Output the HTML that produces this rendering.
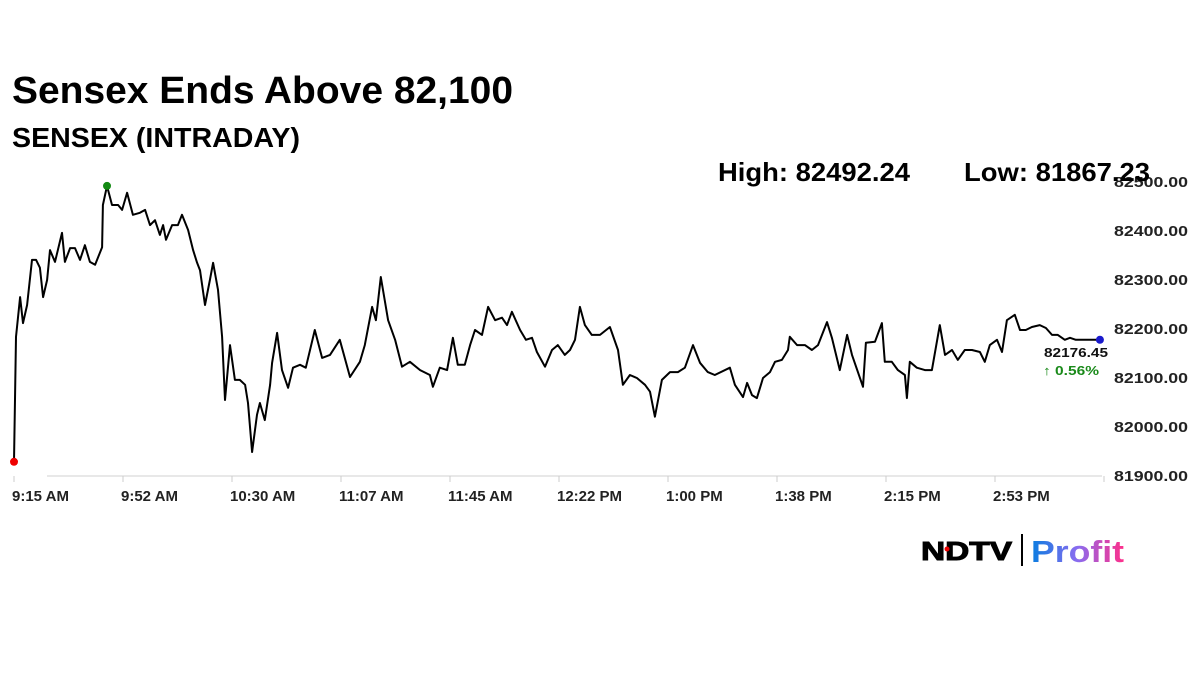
<!DOCTYPE html>
<html><head><meta charset="utf-8"><style>
html,body{margin:0;padding:0;background:#fff;}
svg{display:block;font-family:"Liberation Sans",Arial,sans-serif;}
</style></head><body>
<svg id="chart" width="1200" height="674" viewBox="0 0 1200 674">
<defs><linearGradient id="pg" x1="0" x2="1"><stop offset="0" stop-color="#0a7de0"/><stop offset="0.5" stop-color="#8a6cf0"/><stop offset="1" stop-color="#ff2f8a"/></linearGradient></defs>
<text x="12" y="103" font-size="38" font-weight="bold" fill="#000" textLength="501" lengthAdjust="spacingAndGlyphs">Sensex Ends Above 82,100</text>
<text x="12" y="147" font-size="28" font-weight="bold" fill="#000" textLength="288" lengthAdjust="spacingAndGlyphs">SENSEX (INTRADAY)</text>
<text x="718" y="181" font-size="26" font-weight="bold" fill="#000" textLength="192" lengthAdjust="spacingAndGlyphs">High: 82492.24</text>
<line x1="47" y1="476" x2="1102" y2="476" stroke="#d0d0d0" stroke-width="1"/>
<g id="yaxis"></g>
<g id="xaxis"></g>
<path id="line" fill="none" stroke="#000" stroke-width="2" stroke-linejoin="round"/>
<text x="964" y="181" font-size="26" font-weight="bold" fill="#000" textLength="186" lengthAdjust="spacingAndGlyphs">Low: 81867.23</text>
<g id="marks"></g>
<text x="1044" y="357" font-size="13" font-weight="bold" fill="#111" textLength="64" lengthAdjust="spacingAndGlyphs">82176.45</text>
<text x="1043" y="375" font-size="13" fill="#1a8a1a" font-weight="bold" textLength="56" lengthAdjust="spacingAndGlyphs">↑ 0.56%</text>
<g>
<text x="921" y="560" font-size="26" font-weight="bold" fill="#000" stroke="#000" stroke-width="1" textLength="91" lengthAdjust="spacingAndGlyphs">NDTV</text>
<circle cx="947" cy="549" r="2.5" fill="#e00"/>
<line x1="1022" y1="534" x2="1022" y2="566" stroke="#000" stroke-width="2"/>
<text x="1031" y="562" font-size="31" font-weight="bold" fill="url(#pg)" textLength="93" lengthAdjust="spacingAndGlyphs">Profit</text>
</g>
</svg>
<script>
const yTicks=[82500,82400,82300,82200,82100,82000,81900];
const yTickLabels=["82500.00","82400.00","82300.00","82200.00","82100.00","82000.00","81900.00"];
const xTickMinutes=[0,37.5,75,112.5,150,187.5,225,262.5,300,337.5,375];
const xTickLabels=["9:15 AM","9:52 AM","10:30 AM","11:07 AM","11:45 AM","12:22 PM","1:00 PM","1:38 PM","2:15 PM","2:53 PM",""];
const minutes=[0,0.7,2.1,3.1,4.5,6.2,7.6,8.9,10.0,11.4,12.4,14.1,16.5,17.5,19.3,21.0,22.7,24.4,26.1,27.9,30.3,30.6,32.0,33.7,35.8,37.2,38.9,40.9,43.3,45.1,46.8,48.5,50.2,51.3,52.3,54.4,56.4,57.8,59.9,61.6,63.0,64.0,65.7,67.4,68.5,70.2,71.6,72.6,74.3,76.0,77.7,79.5,80.5,81.9,83.6,84.6,86.3,88.1,88.8,90.5,92.2,94.3,96.0,98.4,100.4,103.5,106.0,108.7,112.1,115.6,119.0,120.7,123.2,124.5,126.2,128.7,131.1,133.5,136.2,139.7,143.1,144.1,146.5,149.0,151.0,152.7,155.1,156.9,158.6,161.0,163.1,165.5,167.9,169.6,171.3,174.1,176.1,178.2,179.9,182.7,185.1,187.1,189.5,191.3,193.0,194.7,196.4,198.8,201.6,205.0,207.8,209.5,211.9,214.3,217.1,218.8,220.5,222.9,225.7,228.4,230.8,233.6,236.0,238.7,241.1,246.3,248.0,250.8,252.2,253.9,255.6,257.7,260.1,261.8,264.2,266.3,266.9,269.4,272.1,274.5,276.6,279.7,281.4,284.1,286.6,288.3,292.1,293.1,296.2,298.6,299.6,302.0,304.1,306.5,307.2,308.2,310.6,313.4,315.8,318.5,320.3,322.7,324.7,327.1,329.6,332.3,334.0,335.7,338.2,339.9,341.6,344.3,346.1,348.1,350.2,352.9,355.0,357.1,359.1,361.5,363.3,365.3,369.5,373.6];
const prices=[81927,82182,82263,82210,82247,82339,82339,82323,82263,82298,82359,82335,82394,82335,82363,82363,82339,82369,82335,82329,82365,82451,82490,82451,82451,82441,82476,82431,82435,82441,82410,82420,82390,82410,82380,82410,82410,82431,82400,82359,82333,82318,82247,82298,82333,82278,82182,82053,82165,82094,82094,82084,82047,81947,82023,82047,82012,82084,82129,82190,82114,82078,82119,82125,82119,82196,82139,82145,82176,82100,82131,82165,82243,82216,82304,82216,82176,82121,82131,82114,82104,82080,82119,82114,82180,82125,82125,82165,82196,82186,82243,82216,82221,82206,82233,82196,82176,82180,82151,82121,82155,82165,82145,82155,82176,82243,82206,82186,82186,82202,82155,82084,82104,82098,82084,82070,82019,82094,82110,82110,82119,82165,82129,82110,82104,82119,82084,82059,82088,82063,82057,82098,82110,82131,82135,82155,82182,82165,82165,82155,82165,82212,82180,82114,82186,82145,82080,82170,82172,82210,82131,82131,82114,82104,82057,82131,82119,82114,82114,82206,82145,82155,82135,82155,82155,82151,82131,82165,82176,82151,82216,82227,82196,82196,82202,82206,82200,82186,82186,82176,82180,82176,82176,82176];
const NS="http://www.w3.org/2000/svg";
function xs(m){return 14+m*(1090/375);}
function ys(v){return 181+(82500-v)*0.49;}
const ya=document.getElementById('yaxis');
yTicks.forEach((v,i)=>{const t=document.createElementNS(NS,'text');


t.setAttribute('x',1114);t.setAttribute('y',ys(v)+6);t.setAttribute('font-size','15');t.setAttribute('font-weight','bold');t.setAttribute('fill','#222');t.setAttribute('textLength','74');t.setAttribute('lengthAdjust','spacingAndGlyphs');t.textContent=yTickLabels[i];ya.appendChild(t);});
const xa=document.getElementById('xaxis');
xTickMinutes.forEach((m,i)=>{const x=xs(m);const l=document.createElementNS(NS,'line');


l.setAttribute('x1',x);l.setAttribute('x2',x);l.setAttribute('y1',476);l.setAttribute('y2',482);l.setAttribute('stroke','#ccc');xa.appendChild(l);
const t=document.createElementNS(NS,'text');


t.setAttribute('x',x-2);t.setAttribute('y',501);t.setAttribute('font-size','15');t.setAttribute('font-weight','bold');t.setAttribute('fill','#222');t.textContent=xTickLabels[i];xa.appendChild(t);});
document.getElementById('line').setAttribute('d',minutes.map((m,i)=>(i?'L':'M')+xs(m).toFixed(1)+' '+ys(prices[i]).toFixed(1)).join(' '));
const mk=document.getElementById('marks');
function dot(i,c,name){const d=document.createElementNS(NS,'circle');


d.setAttribute('cx',xs(minutes[i]));d.setAttribute('cy',ys(prices[i]));d.setAttribute('r',4);d.setAttribute('fill',c);mk.appendChild(d);}
let hi=0,lo=0;prices.forEach((v,i)=>{if(v>prices[hi])hi=i;if(v<prices[lo])lo=i;});
dot(lo,'#e00','low-marker');dot(hi,'#138a13','high-marker');dot(prices.length-1,'#1a1acc','last-marker');
</script>
</body></html>
